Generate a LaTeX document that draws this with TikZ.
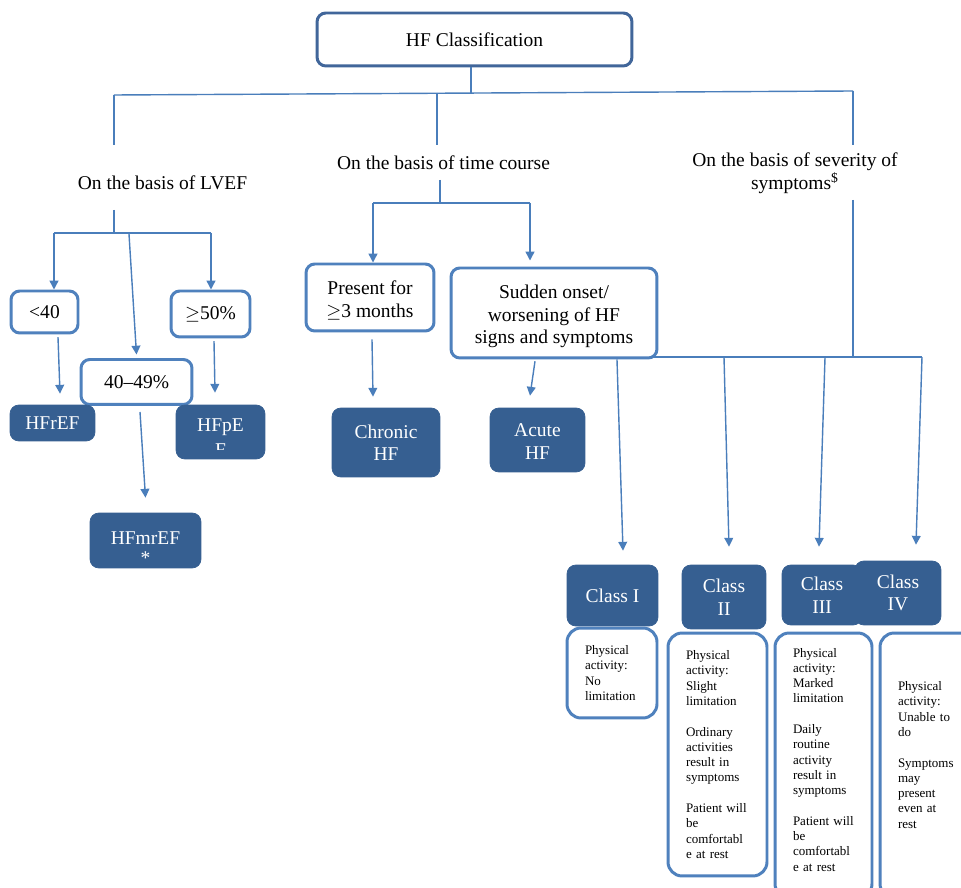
\documentclass[tikz,border=0pt]{standalone}
\usepackage{fontspec}
\setmainfont{Liberation Serif}
\usetikzlibrary{arrows.meta}
\definecolor{navy}{HTML}{365F91}
\definecolor{steel}{HTML}{4A7EBB}
\definecolor{frame}{HTML}{4F81BD}
\definecolor{deepframe}{HTML}{41669A}

\begin{document}
\begin{tikzpicture}[x=0.02cm,y=-0.02cm,>={Triangle[length=5pt,width=5pt]},
  every node/.style={font=\fontsize{11.1}{12.8}\selectfont},
  link/.style={steel,line width=0.8pt},
  openbox/.style={draw=frame,line width=1.7pt,rounded corners=5pt,fill=white,inner sep=0pt,align=center},
  darkbox/.style={fill=navy,draw=navy,rounded corners=5pt,text=white,inner sep=0pt,align=center},
  notebox/.style={draw=frame,line width=1.7pt,rounded corners=8pt,fill=white,inner xsep=0.36cm,inner ysep=0pt,align=left,font=\fontsize{7.4}{8.7}\selectfont}]
\clip (0,0) rectangle (961,888);
\fill[white] (0,0) rectangle (961,888);
% root and the three headings
\node (top) [openbox,draw=deepframe,minimum width=6.3cm,minimum height=1.06cm] at (474.5,39.5) {HF Classification};
\node (lvef) at (162.5,183) {On the basis of LVEF};
\node (course) at (443.5,163) {On the basis of time course};
\node (severity) [align=center] at (795,173) {On the basis of severity of\\symptoms\textsuperscript{\$}};
\coordinate (hub) at (471,93);
\coordinate (busL) at (114,95);
\coordinate (busM) at (437,93);
\coordinate (busR) at (853,91);
\coordinate (lvefIn) at (114,145);
\coordinate (courseIn) at (437,145);
\coordinate (sevIn) at (853,145);
\draw[link] (top.south -| hub) -- (hub);
\draw[link] (busL) -- (busR);
\draw[link] (busL) -- (lvefIn) (busM) -- (courseIn) (busR) -- (sevIn);
% LVEF
\node (lt40) [openbox,minimum width=1.34cm,minimum height=0.84cm] at (44.5,312) {<40};
\node (ge50) [openbox,minimum width=1.58cm,minimum height=0.92cm] at (210.5,314) {$\geq$50\%};
\node (mid) [openbox,minimum width=2.22cm,minimum height=0.9cm] at (136.5,382) {40--49\%};
\node (HFrEF) [darkbox,minimum width=1.7cm,minimum height=0.72cm] at (52.5,423) {HFrEF};
\node (HFpEF) [darkbox,minimum width=1.78cm,minimum height=1.08cm] at (220.5,432) {};
\node (HFpEtext) [text=white] at (220.5,427) {HFpE};
\begin{scope}
\clip (176,441) rectangle (265,449.5);
\node (HFpEcut) [text=white] at (220.5,450) {F};
\end{scope}
\node (HFmrEF) [darkbox,minimum width=2.22cm,minimum height=1.1cm] at (145.5,540.5) {\rule{0pt}{16pt}HFmrEF\\[-1pt]*};
\coordinate (lvefOut) at (114,210);
\coordinate (lvefHub) at (114,233);
\coordinate (lvefL) at (54,233);
\coordinate (lvefR) at (211,233);
\coordinate (lvefM) at (129,234);
\draw[link] (lvefOut) -- (lvefHub) (lvefL) -- (lvefR);
\draw[link,->] (lvefL) -- (lvefL |- lt40.north);
\draw[link,->] (lvefM) -- ([yshift=2pt]mid.north);
\draw[link,->] (lvefR) -- (lvefR |- ge50.north);
\draw[link,->] ([xshift=.27cm,yshift=-1.5pt]lt40.south) -- ([xshift=.15cm,yshift=.22cm]HFrEF.north);
\draw[link,->] ([xshift=.07cm,yshift=-1.5pt]ge50.south) -- ([xshift=-.11cm,yshift=.24cm]HFpEF.north);
\draw[link,->] ([xshift=.07cm,yshift=-.12cm]mid.south) -- ([yshift=.3cm]HFmrEF.north);
% time course
\node (present) [openbox,minimum width=2.56cm,minimum height=1.34cm] at (370,297.5) {\rule{0pt}{11pt}Present for\\$\geq$3 months};
\node (sudden) [openbox,minimum width=4.12cm,minimum height=1.8cm] at (554,313) {\rule{0pt}{12pt}Sudden onset/\\worsening of HF\\signs and symptoms};
\node (chronic) [darkbox,minimum width=2.16cm,minimum height=1.38cm] at (386,442.5) {Chronic\\HF};
\node (acute) [darkbox,minimum width=1.9cm,minimum height=1.28cm] at (537.5,440) {\rule{0pt}{9pt}Acute\\HF};
\coordinate (courseOut) at (440,180);
\coordinate (courseHub) at (440,203);
\coordinate (courseL) at (373,203);
\coordinate (courseR) at (530,203);
\draw[link] (courseOut) -- (courseHub) (courseL) -- (courseR);
\draw[link,->] (courseL) -- (courseL |- present.north);
\draw[link,->,shorten >=.12cm] (courseR) -- (courseR |- sudden.north);
\draw[link,->] ([xshift=.04cm,yshift=-.14cm]present.south) -- ([xshift=-.26cm,yshift=.22cm]chronic.north);
\draw[link,->] ([xshift=-.38cm,yshift=-1pt]sudden.south) -- ([xshift=-.15cm,yshift=.24cm]acute.north);
% NYHA classes
\node (classI) [darkbox,minimum width=1.82cm,minimum height=1.22cm] at (612.5,595.5) {Class I};
\node (classII) [darkbox,minimum width=1.68cm,minimum height=1.28cm] at (724,597) {Class\\II};
\node (classIII) [darkbox,minimum width=1.6cm,minimum height=1.2cm] at (822,595) {Class\\III};
\node (classIV) [darkbox,minimum width=1.72cm,minimum height=1.28cm] at (898,593) {Class\\IV};
\node (noteI) [notebox,text width=1.08cm,minimum width=1.8cm,minimum height=1.8cm] at (612,673) {Physical\\activity:\\No\\limitation};
\node (noteII) [notebox,text width=1.26cm,minimum width=1.98cm,minimum height=4.86cm] at (717.5,754.5) {Physical\\activity:\\Slight\\limitation\\[8.7pt]Ordinary\\activities\\result in\\symptoms\\[8.7pt]Patient will\\be\\comfortabl\\e at rest};
\node (noteIII) [notebox,text width=1.22cm,minimum width=1.94cm,minimum height=5.3cm] at (823.5,765.5) {Physical\\activity:\\Marked\\limitation\\[8.7pt]Daily\\routine\\activity\\result in\\symptoms\\[8.7pt]Patient will\\be\\comfortabl\\e at rest\\[-0.07cm]\mbox{}};
\node (noteIV) [notebox,text width=1.18cm,minimum width=1.9cm,minimum height=5.3cm] at (927.5,765.5) {Physical\\activity:\\Unable to\\do\\[8.7pt]Symptoms\\may\\present\\even at\\rest\\[0.12cm]\mbox{}};
\coordinate (sevOut) at (853,200);
\coordinate (sevHub) at (853,357);
\coordinate (sevL) at (650,357);
\coordinate (sevR) at (922,357);
\coordinate (sevA) at (724,357);
\coordinate (sevB) at (825,358);
\draw[link] (sevOut) -- (sevHub) (sevL) -- (sevR);
\draw[link,->] ([xshift=1.26cm]sudden.south) -- ([xshift=.21cm,yshift=.28cm]classI.north);
\draw[link,->] (sevA) -- ([xshift=.1cm,yshift=.36cm]classII.north);
\draw[link,->] (sevB) -- ([xshift=-.06cm,yshift=.36cm]classIII.north);
\draw[link,->] (sevR) -- ([xshift=.36cm,yshift=.32cm]classIV.north);
\end{tikzpicture}
\end{document}
